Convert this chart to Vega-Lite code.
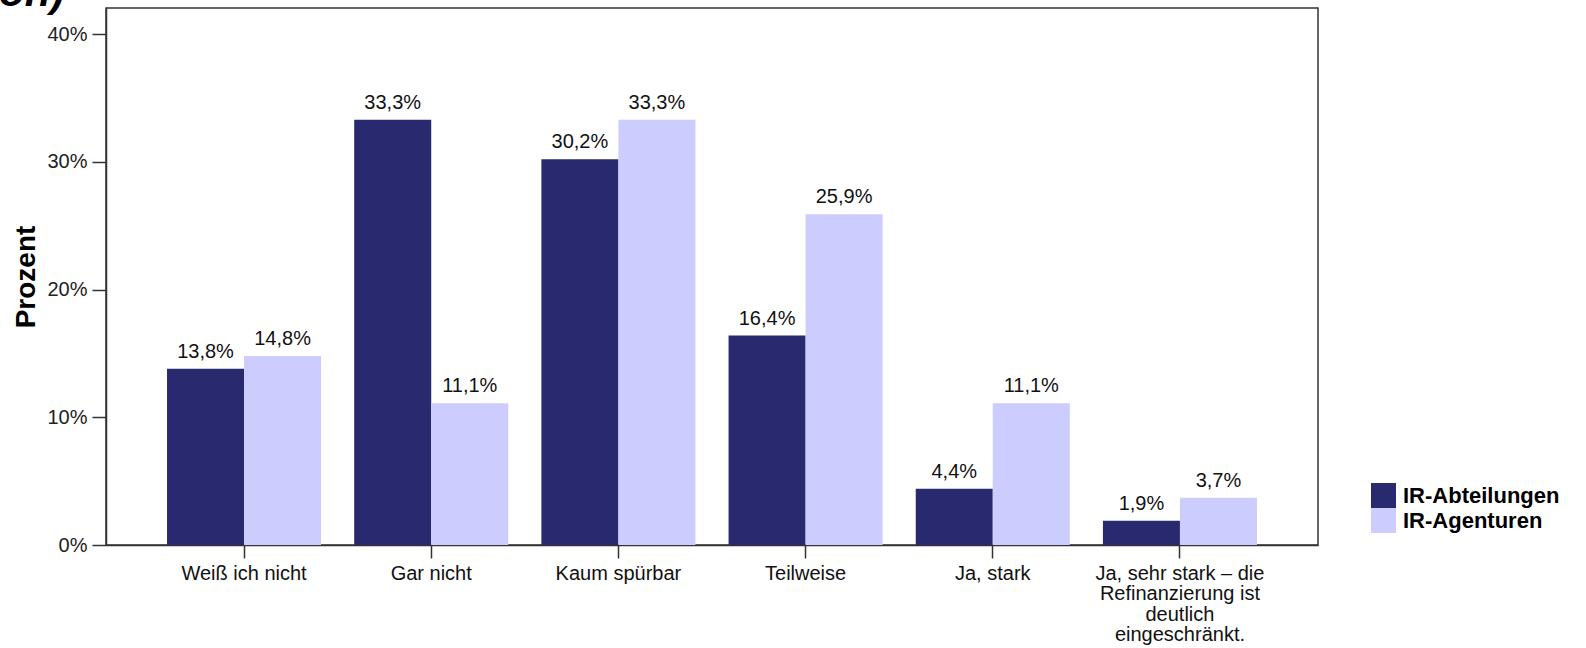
{
  "$schema": "https://vega.github.io/schema/vega-lite/v6.json",
  "width": 1212,
  "height": 537,
  "autosize": {"type": "none"},
  "padding": {"left": 106, "top": 8, "right": 268, "bottom": 103},
  "background": "white",
  "title": {"text": "on)", "anchor": "start", "frame": "group", "orient": "top", "offset": 0, "dy": 40, "dx": -107, "fontSize": 42, "fontWeight": "bold", "fontStyle": "italic", "font": "Liberation Sans", "color": "#000", "baseline": "alphabetic"},
  "data": {
    "values": [
      {"Antwort": "Weiß ich nicht", "Gruppe": "IR-Abteilungen", "Prozent": 13.8},
      {"Antwort": "Weiß ich nicht", "Gruppe": "IR-Agenturen", "Prozent": 14.8},
      {"Antwort": "Gar nicht", "Gruppe": "IR-Abteilungen", "Prozent": 33.3},
      {"Antwort": "Gar nicht", "Gruppe": "IR-Agenturen", "Prozent": 11.1},
      {"Antwort": "Kaum spürbar", "Gruppe": "IR-Abteilungen", "Prozent": 30.2},
      {"Antwort": "Kaum spürbar", "Gruppe": "IR-Agenturen", "Prozent": 33.3},
      {"Antwort": "Teilweise", "Gruppe": "IR-Abteilungen", "Prozent": 16.4},
      {"Antwort": "Teilweise", "Gruppe": "IR-Agenturen", "Prozent": 25.9},
      {"Antwort": "Ja, stark", "Gruppe": "IR-Abteilungen", "Prozent": 4.4},
      {"Antwort": "Ja, stark", "Gruppe": "IR-Agenturen", "Prozent": 11.1},
      {"Antwort": "Ja, sehr stark – die Refinanzierung ist deutlich eingeschränkt.", "Gruppe": "IR-Abteilungen", "Prozent": 1.9},
      {"Antwort": "Ja, sehr stark – die Refinanzierung ist deutlich eingeschränkt.", "Gruppe": "IR-Agenturen", "Prozent": 3.7}
    ]
  },
  "transform": [
    {"calculate": "replace(format(datum.Prozent, '.1f'), '.', ',') + '%'", "as": "Label"}
  ],
  "encoding": {
    "x": {
      "field": "Antwort",
      "type": "nominal",
      "sort": ["Weiß ich nicht", "Gar nicht", "Kaum spürbar", "Teilweise", "Ja, stark", "Ja, sehr stark – die Refinanzierung ist deutlich eingeschränkt."],
      "scale": {"paddingInner": 0.177, "paddingOuter": 0.326},
      "axis": {
        "title": null,
        "labelAngle": 0,
        "labelFontSize": 20,
        "labelFont": "Liberation Sans",
        "labelColor": "#111",
        "labelBaseline": "top",
        "labelPadding": 5,
        "labelLineHeight": 20.5,
        "labelLimit": 0,
        "tickSize": 13,
        "tickColor": "#333",
        "tickWidth": 1.5,
        "domainColor": "#333",
        "domainWidth": 1.5,
        "labelExpr": "indexof(datum.label, 'Ja, sehr') == 0 ? ['Ja, sehr stark – die', 'Refinanzierung ist', 'deutlich', 'eingeschränkt.'] : datum.label"
      }
    },
    "xOffset": {"field": "Gruppe", "type": "nominal", "sort": ["IR-Abteilungen", "IR-Agenturen"], "scale": {"paddingInner": 0, "paddingOuter": 0}},
    "y": {
      "field": "Prozent",
      "type": "quantitative",
      "scale": {"domain": [0, 42.04], "nice": false},
      "axis": {
        "title": "Prozent",
        "titleFont": "Liberation Sans",
        "titleFontSize": 28,
        "titleFontWeight": "bold",
        "titleColor": "#000",
        "titlePadding": 6,
        "values": [0, 10, 20, 30, 40],
        "labelExpr": "datum.value + '%'",
        "labelFont": "Liberation Sans",
        "labelFontSize": 20,
        "labelColor": "#222",
        "labelPadding": 5,
        "tickSize": 14,
        "tickColor": "#333",
        "tickWidth": 1.5,
        "domainColor": "#333",
        "domainWidth": 1.5,
        "grid": false
      }
    }
  },
  "layer": [
    {
      "mark": {"type": "bar"},
      "encoding": {
        "color": {
          "field": "Gruppe",
          "type": "nominal",
          "scale": {"domain": ["IR-Abteilungen", "IR-Agenturen"], "range": ["#29296F", "#CCCCFF"]},
          "legend": {
            "orient": "none",
            "legendX": 1265,
            "legendY": 475,
            "title": null,
            "symbolType": "square",
            "symbolSize": 625,
            "symbolStrokeWidth": 0,
            "symbolOpacity": 1,
            "labelFont": "Liberation Sans",
            "labelFontSize": 22,
            "labelFontWeight": "bold",
            "labelColor": "#000",
            "labelOffset": 7,
            "labelLimit": 0,
            "rowPadding": 0,
            "padding": 0
          }
        }
      }
    },
    {
      "mark": {"type": "text", "baseline": "alphabetic", "dy": -11, "fontSize": 20, "font": "Liberation Sans", "color": "#111"},
      "encoding": {"text": {"field": "Label"}}
    }
  ],
  "config": {
    "view": {"stroke": "#333", "strokeWidth": 1.5}
  }
}
